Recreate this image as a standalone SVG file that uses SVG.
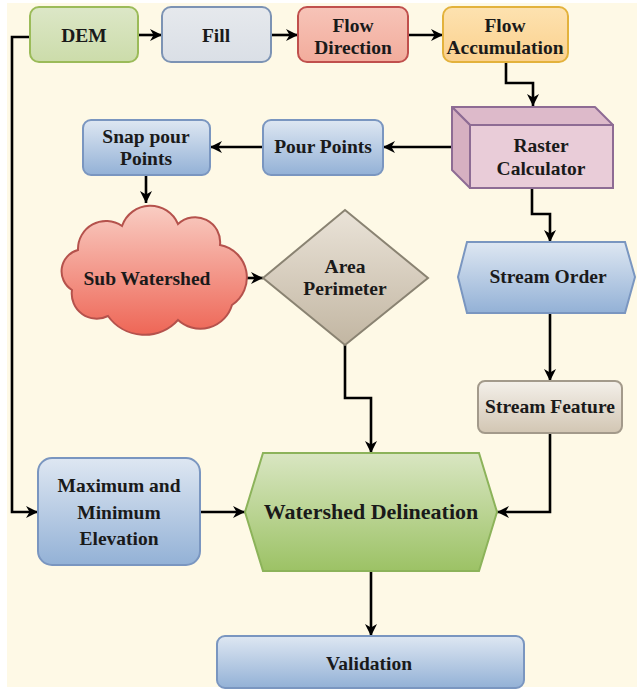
<svg xmlns="http://www.w3.org/2000/svg" width="637" height="689" viewBox="0 0 637 689">
<style>
text{font-family:"Liberation Serif","Times New Roman",serif;font-weight:bold;font-size:19.5px;fill:#1a1a1a;text-anchor:middle}
.big{font-size:22px}
.conn{fill:none;stroke:#000;stroke-width:2.6;marker-end:url(#arr)}
.blue{fill:url(#gBlue);stroke:#7A96C0;stroke-width:2}
</style>
<defs>
<marker id="arr" viewBox="0 0 10 10" refX="10" refY="5" markerWidth="12" markerHeight="12" markerUnits="userSpaceOnUse" orient="auto">
<path d="M0,0 L10,5 L0,10 L3,5 Z" fill="#000"/>
</marker>
<linearGradient id="gBlue" x1="0" y1="0" x2="0" y2="1"><stop offset="0" stop-color="#DEE7F2"/><stop offset="1" stop-color="#93B1D6"/></linearGradient>
<linearGradient id="gDem" x1="0" y1="0" x2="0" y2="1"><stop offset="0" stop-color="#DCE7C7"/><stop offset="1" stop-color="#CCDCAA"/></linearGradient>
<linearGradient id="gFill" x1="0" y1="0" x2="0" y2="1"><stop offset="0" stop-color="#E6E9ED"/><stop offset="1" stop-color="#DADFE6"/></linearGradient>
<linearGradient id="gFd" x1="0" y1="0" x2="0" y2="1"><stop offset="0" stop-color="#F7C4B8"/><stop offset="1" stop-color="#F2AC9C"/></linearGradient>
<linearGradient id="gFa" x1="0" y1="0" x2="0" y2="1"><stop offset="0" stop-color="#FDE2B0"/><stop offset="1" stop-color="#FBD18E"/></linearGradient>
<linearGradient id="gCloud" x1="0" y1="0" x2="0" y2="1"><stop offset="0" stop-color="#F9CDC3"/><stop offset="1" stop-color="#EE6656"/></linearGradient>
<linearGradient id="gDia" x1="0" y1="0" x2="0" y2="1"><stop offset="0" stop-color="#EAE3D8"/><stop offset="1" stop-color="#C2B6A2"/></linearGradient>
<linearGradient id="gSf" x1="0" y1="0" x2="0" y2="1"><stop offset="0" stop-color="#F4F0EA"/><stop offset="1" stop-color="#D2C6B3"/></linearGradient>
<linearGradient id="gWs" x1="0" y1="0" x2="0" y2="1"><stop offset="0" stop-color="#D9E6C2"/><stop offset="1" stop-color="#9CC265"/></linearGradient>
</defs>
<rect x="0" y="0" width="637" height="689" fill="#FFFFFF"/>
<rect x="7" y="3" width="630" height="684" fill="#FEF9E6"/>

<g id="connectors">
<path class="conn" d="M138,35 H162"/>
<path class="conn" d="M271,35 H298"/>
<path class="conn" d="M408,35 H443"/>
<path class="conn" d="M506,62 V83 H533 V106"/>
<path class="conn" d="M452,147 H383"/>
<path class="conn" d="M263,147 H210"/>
<path class="conn" d="M146,175 V203"/>
<path class="conn" d="M243,278 H263"/>
<path class="conn" d="M345,345 V398 H371 V453"/>
<path class="conn" d="M532,188 V214 H550 V242"/>
<path class="conn" d="M550,313 V381"/>
<path class="conn" d="M550,433 V512 H497"/>
<path class="conn" d="M30,37 H12 V512 H38"/>
<path class="conn" d="M200,512 H245"/>
<path class="conn" d="M371,571 V636"/>
</g>

<g id="dem">
<rect x="30" y="7" width="108" height="55" rx="9" fill="url(#gDem)" stroke="#9BBB59" stroke-width="2"/>
<text x="84" y="42">DEM</text>
</g>
<g id="fill">
<rect x="162" y="7" width="109" height="55" rx="9" fill="url(#gFill)" stroke="#7C93B4" stroke-width="2"/>
<text x="216" y="42">Fill</text>
</g>
<g id="flow-direction">
<rect x="298" y="7" width="110" height="55" rx="9" fill="url(#gFd)" stroke="#C0504D" stroke-width="2"/>
<text x="353" y="32">Flow</text>
<text x="353" y="54">Direction</text>
</g>
<g id="flow-accumulation">
<rect x="443" y="7" width="125" height="55" rx="9" fill="url(#gFa)" stroke="#E3B23C" stroke-width="2"/>
<text x="505" y="32">Flow</text>
<text x="505" y="54">Accumulation</text>
</g>
<g id="raster-calculator">
<rect x="470" y="125" width="143" height="63" fill="#E9CCD8" stroke="#8E6C94" stroke-width="2"/>
<polygon points="452,107 595,107 613,125 470,125" fill="#DDBACA" stroke="#8E6C94" stroke-width="2" stroke-linejoin="round"/>
<polygon points="452,107 470,125 470,188 452,170" fill="#D6B0C1" stroke="#8E6C94" stroke-width="2" stroke-linejoin="round"/>
<text x="541" y="152">Raster</text>
<text x="541" y="175">Calculator</text>
</g>
<g id="pour-points">
<rect class="blue" x="263" y="120" width="120" height="55" rx="8"/>
<text x="323" y="153">Pour Points</text>
</g>
<g id="snap-pour-points">
<rect class="blue" x="83" y="120" width="127" height="55" rx="8"/>
<text x="146" y="143">Snap pour</text>
<text x="146" y="165">Points</text>
</g>
<g id="sub-watershed">
<path d="M72,290 A22,22 0 0 1 78,250 A28,28 0 0 1 122,226 A30,30 0 0 1 178,224 A25,25 0 0 1 220,245 A33,33 0 0 1 232,305 A33,33 0 0 1 178,320 A45,45 0 0 1 108,316 A25,25 0 0 1 72,290 Z" fill="url(#gCloud)" stroke="#B5524C" stroke-width="2"/>
<text x="147" y="285">Sub Watershed</text>
</g>
<g id="area-perimeter">
<polygon points="263,278 345,210 428,278 345,345" fill="url(#gDia)" stroke="#8A8372" stroke-width="2"/>
<text x="345" y="273">Area</text>
<text x="345" y="295">Perimeter</text>
</g>
<g id="stream-order">
<polygon class="blue" points="458,277 467,242 625,242 635,277 625,313 467,313"/>
<text x="548" y="283">Stream Order</text>
</g>
<g id="stream-feature">
<rect x="478" y="381" width="144" height="52" rx="7" fill="url(#gSf)" stroke="#A39A8B" stroke-width="2"/>
<text x="550" y="413">Stream Feature</text>
</g>
<g id="max-min-elevation">
<rect class="blue" x="38" y="458" width="162" height="107" rx="14"/>
<text x="119" y="492">Maximum and</text>
<text x="119" y="519">Minimum</text>
<text x="119" y="545">Elevation</text>
</g>
<g id="watershed-delineation">
<polygon points="245,512 263,453 479,453 497,512 479,571 263,571" fill="url(#gWs)" stroke="#8CB35A" stroke-width="2"/>
<text class="big" x="371" y="519">Watershed Delineation</text>
</g>
<g id="validation">
<rect class="blue" x="217" y="636" width="307" height="52" rx="8"/>
<text x="369" y="670">Validation</text>
</g>
</svg>
